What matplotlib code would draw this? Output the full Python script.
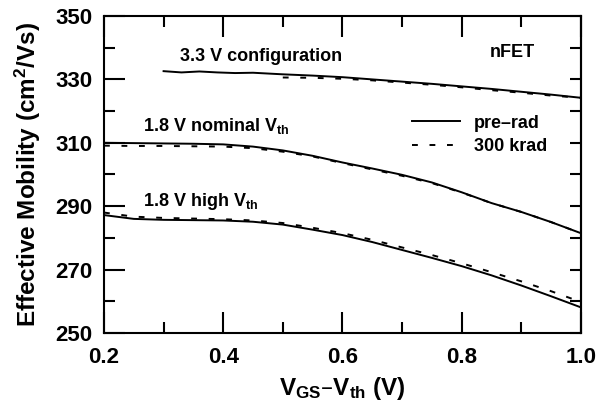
import matplotlib
matplotlib.use("Agg")
import matplotlib.pyplot as plt
from matplotlib.ticker import MultipleLocator

plt.rcParams["font.family"] = ["Liberation Sans", "DejaVu Sans"]
plt.rcParams["font.weight"] = "bold"
plt.rcParams["axes.labelweight"] = "bold"
plt.rcParams["mathtext.default"] = "regular"

# 3.3 V configuration
x_33_pre = [0.30, 0.33, 0.36, 0.39, 0.42, 0.45, 0.50, 0.55, 0.60, 0.65, 0.70, 0.75, 0.80, 0.85, 0.90, 0.95, 1.00]
y_33_pre = [332.6, 332.2, 332.5, 332.2, 332.0, 332.1, 331.6, 331.2, 330.7, 330.0, 329.3, 328.6, 327.8, 327.0, 326.1, 325.2, 324.2]
x_33_rad = [0.50, 0.55, 0.60, 0.65, 0.70, 0.75, 0.80, 0.85, 0.90, 0.95, 1.00]
y_33_rad = [330.6, 330.5, 330.2, 329.7, 329.0, 328.3, 327.5, 326.6, 325.8, 324.9, 324.2]

# 1.8 V nominal Vth
x_nom = [0.20, 0.25, 0.30, 0.35, 0.40, 0.45, 0.50, 0.55, 0.60, 0.65, 0.70, 0.75, 0.80, 0.85, 0.90, 0.95, 1.00]
y_nom_pre = [310.0, 309.9, 309.8, 309.7, 309.5, 308.8, 307.6, 305.9, 303.8, 301.9, 299.9, 297.5, 294.4, 291.0, 288.2, 285.0, 281.5]
y_nom_rad = [309.1, 309.0, 309.0, 308.9, 308.8, 308.3, 307.2, 305.7, 303.6, 301.6, 299.6, 297.3, 294.3, 291.0, 288.2, 285.0, 281.5]

# 1.8 V high Vth
x_high = [0.20, 0.25, 0.30, 0.35, 0.40, 0.45, 0.50, 0.55, 0.60, 0.65, 0.70, 0.75, 0.80, 0.85, 0.90, 0.95, 1.00]
y_high_pre = [287.2, 286.0, 285.7, 285.6, 285.5, 285.1, 284.2, 282.6, 280.9, 278.7, 276.2, 273.7, 271.1, 268.2, 265.0, 261.6, 258.1]
y_high_rad = [288.0, 286.7, 286.3, 286.1, 285.9, 285.5, 284.7, 283.2, 281.5, 279.4, 277.0, 274.6, 272.0, 269.2, 266.3, 263.2, 259.8]

fig = plt.figure(figsize=(6.0, 4.09), dpi=100)
ax = fig.add_axes([0.1733, 0.1858, 0.7947, 0.7751])

lw = 1.4
dash = (3, 6)
ax.plot(x_33_pre, y_33_pre, color="black", lw=lw)
ax.plot(x_33_rad, y_33_rad, color="black", lw=lw, dashes=dash)
ax.plot(x_nom, y_nom_pre, color="black", lw=lw)
ax.plot(x_nom, y_nom_rad, color="black", lw=lw, dashes=dash)
ax.plot(x_high, y_high_pre, color="black", lw=lw, label="pre–rad")
ax.plot(x_high, y_high_rad, color="black", lw=lw, dashes=dash, label="300 krad")

ax.set_xlim(0.2, 1.0)
ax.set_ylim(250, 350)
ax.xaxis.set_major_locator(MultipleLocator(0.2))
ax.xaxis.set_minor_locator(MultipleLocator(0.1))
ax.yaxis.set_major_locator(MultipleLocator(20, offset=10))
ax.yaxis.set_minor_locator(MultipleLocator(10))
ax.xaxis.set_major_formatter(lambda v, p: f"{v:.1f}")
ax.tick_params(which="both", direction="in", top=True, right=False, width=1.5, labelsize=16)
ax.tick_params(which="major", length=15)
ax.tick_params(which="minor", length=8)
ax.tick_params(axis="x", pad=10)
ax.tick_params(axis="y", pad=8)
for lab in ax.get_xticklabels() + ax.get_yticklabels():
    lab.set_fontweight("bold")
for s in ax.spines.values():
    s.set_linewidth(1.5)

sec = ax.secondary_yaxis("right")
sec.yaxis.set_major_locator(MultipleLocator(10))
sec.tick_params(direction="in", length=8, width=1.5, labelright=False)
sec.spines["right"].set_linewidth(1.5)

ax.set_xlabel("$V_{GS}$–$V_{th}$ (V)", fontsize=17.5, labelpad=5)
ax.set_ylabel("Effective Mobility (cm$^2$/Vs)", fontsize=17.5, labelpad=9)

ax.text(0.327, 337.1, "3.3 V configuration", fontsize=13, ha="left", va="center")
ax.text(0.848, 338.6, "nFET", fontsize=13, ha="left", va="center")
ax.text(0.265, 315.4, "1.8 V nominal $V_{th}$", fontsize=13, ha="left", va="center")
ax.text(0.265, 291.6, "1.8 V high $V_{th}$", fontsize=13, ha="left", va="center")

ax.legend(loc="center left", bbox_to_anchor=(0.63, 0.625), frameon=False, fontsize=13,
          handlelength=2.7, handletextpad=0.75, labelspacing=0.35, borderaxespad=0)

fig.savefig("out.png", dpi=100)
